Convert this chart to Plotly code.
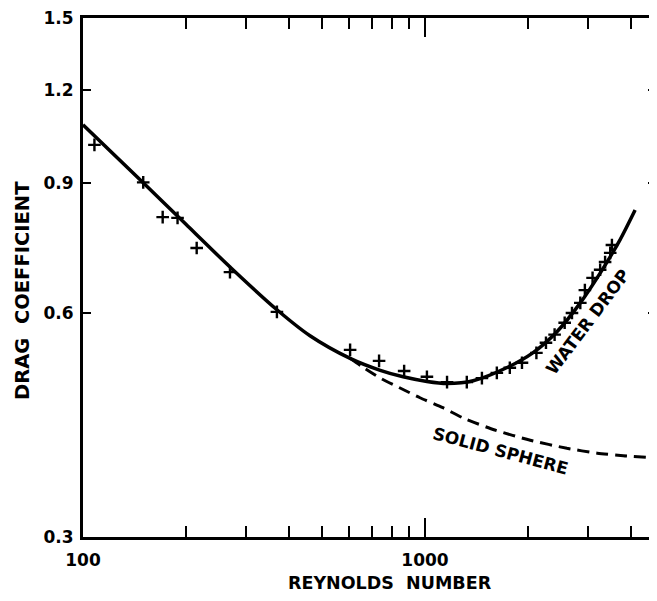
import plotly.graph_objects as go
import numpy as np

# Water drop fitted curve (Reynolds number, drag coefficient)
water_re = [100, 150, 200, 270, 369, 461, 604, 740, 863, 1013, 1160, 1383, 1732, 2066, 2431, 2845, 3252, 3717, 4115]
water_cd = [1.077, 0.900, 0.791, 0.692, 0.607, 0.560, 0.522, 0.503, 0.493, 0.486, 0.483, 0.487, 0.507, 0.531, 0.567, 0.620, 0.680, 0.754, 0.827]

# Solid sphere curve (dashed)
sphere_re = [604, 658, 740, 863, 967, 1128, 1291, 1600, 2032, 2600, 3189, 3800, 4487]
sphere_cd = [0.522, 0.508, 0.491, 0.474, 0.462, 0.448, 0.434, 0.418, 0.405, 0.395, 0.389, 0.386, 0.384]

# Measured points (plus markers)
obs_re = [108, 150, 171, 189, 215, 269, 369, 604, 734, 869, 1013, 1160, 1325, 1467, 1622, 1770, 1921,
          2117, 2258, 2393, 2561, 2690, 2845, 2934, 3090, 3252, 3362, 3480, 3520]
obs_cd = [1.012, 0.901, 0.809, 0.807, 0.735, 0.682, 0.603, 0.536, 0.518, 0.502, 0.493, 0.485, 0.485, 0.491,
          0.499, 0.507, 0.515, 0.531, 0.548, 0.562, 0.583, 0.601, 0.620, 0.645, 0.670, 0.687, 0.704, 0.724, 0.742]

y_ticks = [0.3, 0.6, 0.9, 1.2, 1.5]
y_ticktext = ["0.3", "0.6", "0.9", "1.2", "1.5"]
x_ticks = [100, 1000]
x_ticktext = ["100", "1000"]
x_minor = [200, 300, 400, 500, 600, 700, 800, 900, 2000, 3000, 4000]

FONT = "DejaVu Sans"

# figure geometry (page body has an 8px margin)
W, H = 649, 593
L, R, T, B = 75, 1, 10, 64
pw, ph = W - L - R, H - T - B
SX0, SY1 = 83, 537  # screen position of plot left / bottom


def px(sx):
    return (sx - SX0) / pw


def py(sy):
    return (SY1 - sy) / ph


fig = go.Figure()
fig.add_trace(go.Scatter(x=water_re, y=water_cd, mode="lines",
                         line=dict(color="black", width=3.5, shape="spline", smoothing=0.8),
                         showlegend=False, hoverinfo="skip"))
fig.add_trace(go.Scatter(x=sphere_re, y=sphere_cd, mode="lines",
                         line=dict(color="black", width=3, dash="12px,7px", shape="spline", smoothing=0.6),
                         showlegend=False, hoverinfo="skip"))
fig.add_trace(go.Scatter(x=obs_re, y=obs_cd, mode="markers",
                         marker=dict(symbol="cross-thin", size=9, line=dict(color="black", width=2.4)),
                         showlegend=False))

# faint dotted scan line
fig.add_shape(type="line", xref="paper", yref="y", x0=px(40), x1=1.0,
              y0=np.log10(0.62), y1=np.log10(0.62),
              line=dict(color="#555", width=1.5, dash="2px,13px"))

fig.add_annotation(text="WATER DROP", x=np.log10(2990), y=np.log10(0.584), xref="x", yref="y",
                   showarrow=False, textangle=-53,
                   font=dict(family=FONT, size=17, color="black", weight="bold"))
fig.add_annotation(text="SOLID SPHERE", x=np.log10(1668), y=np.log10(0.392), xref="x", yref="y",
                   showarrow=False, textangle=15,
                   font=dict(family=FONT, size=17, color="black", weight="bold"))

fig.add_annotation(text="REYNOLDS  NUMBER", x=px(390), y=py(583), xref="paper", yref="paper",
                   xanchor="center", yanchor="middle", showarrow=False,
                   font=dict(family=FONT, size=17.5, color="black", weight="bold"))
fig.add_annotation(text="DRAG  COEFFICIENT", x=px(22), y=py(291), xref="paper", yref="paper",
                   xanchor="center", yanchor="middle", showarrow=False, textangle=-90,
                   font=dict(family=FONT, size=19.5, color="black", weight="bold"))

axis_common = dict(showgrid=False, zeroline=False, showline=True, linecolor="black", linewidth=3,
                   mirror="allticks", ticks="inside", tickcolor="black", automargin=False,
                   ticklabeloverflow="allow",
                   tickfont=dict(family=FONT, size=17, color="black", weight="bold"))

fig.update_xaxes(type="log", range=[2, 2 + pw / 342.0],
                 tickvals=x_ticks, ticktext=x_ticktext, ticklen=19, tickwidth=2, ticklabelstandoff=6,
                 minor=dict(tickvals=x_minor, ticklen=11, tickwidth=2, ticks="inside", tickcolor="black"),
                 **axis_common)
fig.update_yaxes(type="log", range=[np.log10(0.3), np.log10(1.5)],
                 tickvals=y_ticks, ticktext=y_ticktext, ticklen=8, tickwidth=2, ticklabelstandoff=3,
                 **axis_common)

fig.update_layout(width=W, height=H, margin=dict(l=L, r=R, t=T, b=B),
                  plot_bgcolor="white", paper_bgcolor="white")

fig.write_html("out.html")
